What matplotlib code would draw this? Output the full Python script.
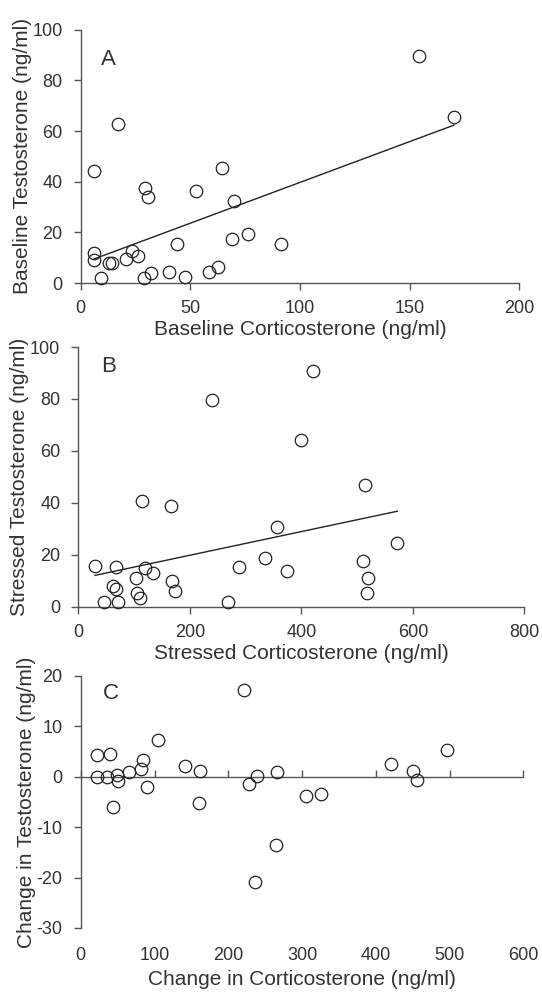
import numpy as np
import matplotlib
matplotlib.use("Agg")
import matplotlib.pyplot as plt

plt.rcParams['font.family'] = ['Liberation Sans', 'DejaVu Sans']
plt.rcParams['axes.unicode_minus'] = False

# Panel A: baseline corticosterone vs baseline testosterone
base_cort = [154.4, 170.2, 17.2, 6.1, 64.4, 29.3, 30.7, 52.4, 70.1, 76.1, 69.1, 44.1, 91.2,
             5.9, 6.1, 23.3, 26.0, 20.5, 13.1, 14.4, 9.3, 28.7, 32.2, 40.1, 47.6, 58.5, 62.8]
base_testo = [89.8, 65.7, 62.7, 44.2, 45.6, 37.6, 34.0, 36.4, 32.3, 19.3, 17.5, 15.4, 15.3,
              11.9, 9.0, 12.7, 10.7, 9.5, 7.8, 7.8, 2.0, 1.8, 4.1, 4.4, 2.2, 4.4, 6.2]

# Panel B: stressed corticosterone vs stressed testosterone
str_cort = [421, 239.8, 398.8, 514.8, 114.2, 166.2, 356.4, 572.2, 335.4, 511.2, 288.8, 374.9,
            519, 517.8, 29.9, 67.6, 119, 134.5, 102.8, 168, 174, 62.2, 67.6, 105.2, 110,
            46.6, 71.2, 269]
str_testo = [90.6, 79.8, 64.1, 46.7, 40.7, 38.6, 30.6, 24.4, 18.7, 17.7, 15.4, 13.9,
             10.9, 5.3, 15.8, 15.3, 14.8, 13.1, 10.9, 10.0, 6.2, 8.0, 6.7, 5.3, 3.5,
             1.7, 1.9, 1.7]

# Panel C: change in corticosterone vs change in testosterone
d_cort = [221.7, 104.5, 495.9, 22.6, 39.8, 84.6, 419.9, 141.2, 81, 65.2, 162, 265.6, 450.2,
          22.6, 36.2, 48.9, 50.7, 239.4, 228, 455.2, 89.6, 305, 325.8, 43.9, 159.7,
          265.2, 236.7]
d_testo = [17.3, 7.3, 5.3, 4.4, 4.6, 3.4, 2.6, 2.1, 1.6, 0.9, 1.1, 1.0, 1.2,
           0, 0, 0.4, -0.8, 0.1, -1.5, -0.7, -2.1, -3.8, -3.4, -6.0, -5.3,
           -13.5, -20.8]

txt = '#333333'
axc = '#555555'
tick_fs = 13
lab_fs = 15

fig = plt.figure(figsize=(5.42, 9.93), dpi=100)
axA = fig.add_axes([0.149, 0.715, 0.809, 0.255])
axB = fig.add_axes([0.1445, 0.389, 0.823, 0.2615])
axC = fig.add_axes([0.149, 0.0655, 0.8166, 0.2538])


def style(ax):
    for s in ['top', 'right']:
        ax.spines[s].set_visible(False)
    for s in ['left', 'bottom']:
        ax.spines[s].set_color(axc)
        ax.spines[s].set_linewidth(1.0)
    ax.tick_params(colors=axc, labelcolor=txt, labelsize=tick_fs, length=5, width=1.0)
    ax.tick_params(axis='x', pad=7.5)
    ax.tick_params(axis='y', pad=8)


def scatter(ax, x, y, fit=True):
    ax.plot(x, y, 'o', mfc='none', mec='#222222', ms=9, mew=0.9, clip_on=False, zorder=3)
    if fit:
        m, b = np.polyfit(x, y, 1)
        xs = np.array([min(x), max(x)])
        ax.plot(xs, m * xs + b, color='#222222', lw=1.0)


scatter(axA, base_cort, base_testo)
axA.set_xlim(0, 200)
axA.set_ylim(0, 100)
axA.set_xticks(np.arange(0, 201, 50))
axA.set_yticks(np.arange(0, 101, 20))
style(axA)
axA.set_xlabel('Baseline Corticosterone (ng/ml)', fontsize=lab_fs, color=txt, labelpad=2)
axA.set_ylabel('Baseline Testosterone (ng/ml)', fontsize=lab_fs, color=txt, labelpad=0.5)
axA.text(0.046, 0.862, 'A', transform=axA.transAxes, fontsize=16, color=txt)

scatter(axB, str_cort, str_testo)
axB.set_xlim(0, 800)
axB.set_ylim(0, 100)
axB.set_xticks(np.arange(0, 801, 200))
axB.set_yticks(np.arange(0, 101, 20))
style(axB)
axB.set_xlabel('Stressed Corticosterone (ng/ml)', fontsize=lab_fs, color=txt, labelpad=2)
axB.set_ylabel('Stressed Testosterone (ng/ml)', fontsize=lab_fs, color=txt, labelpad=0.5)
axB.text(0.052, 0.904, 'B', transform=axB.transAxes, fontsize=16, color=txt)

scatter(axC, d_cort, d_testo, fit=False)
axC.set_xlim(0, 600)
axC.set_ylim(-30, 20)
axC.set_xticks(np.arange(0, 601, 100))
axC.set_yticks(np.arange(-30, 21, 10))
style(axC)
axC.spines['bottom'].set_position(('data', 0))
axC.tick_params(axis='x', direction='in', labelbottom=False)
sec = axC.secondary_xaxis(0)
sec.set_xticks(np.arange(0, 601, 100))
sec.spines['bottom'].set_visible(False)
sec.tick_params(length=0, pad=14, labelsize=tick_fs, labelcolor=txt)
sec.set_xlabel('Change in Corticosterone (ng/ml)', fontsize=lab_fs, color=txt, labelpad=4)
axC.set_ylabel('Change in Testosterone (ng/ml)', fontsize=lab_fs, color=txt, labelpad=0.5)
axC.text(0.05, 0.909, 'C', transform=axC.transAxes, fontsize=16, color=txt)

fig.savefig('out.png', dpi=100)
